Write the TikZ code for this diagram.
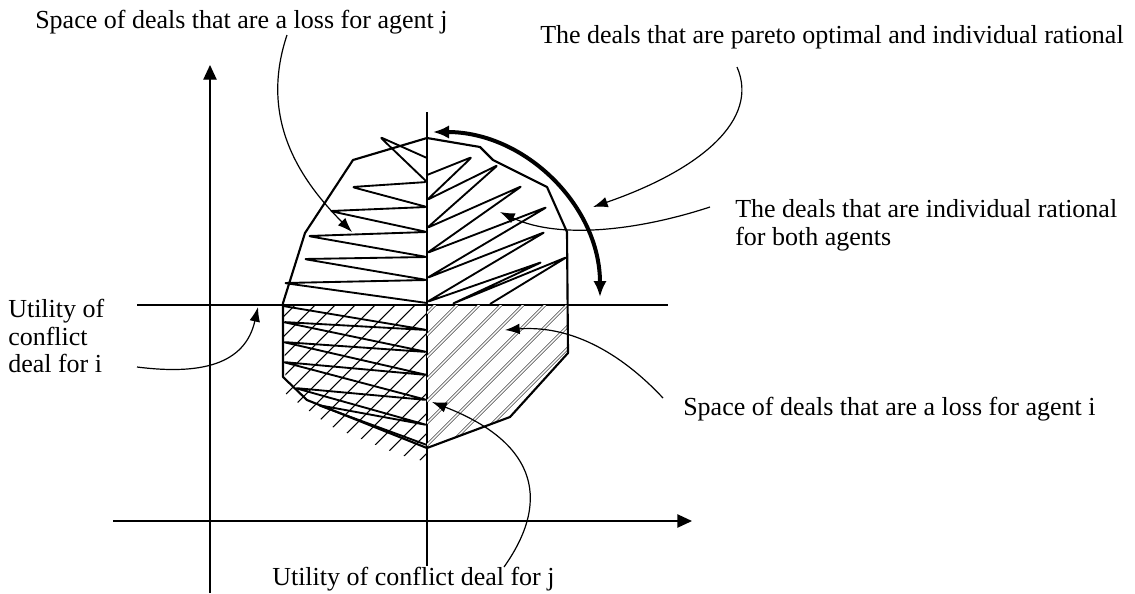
\documentclass[tikz,border=0pt]{standalone}
\usepackage{fontspec}
\setmainfont{Liberation Serif}
\usetikzlibrary{arrows.meta}
\begin{document}
\begin{tikzpicture}[x=0.75pt,y=-0.75pt,
  lbl/.style={font=\fontsize{19.5}{21}\selectfont, inner sep=0pt, anchor=base west},
  ax/.style={line width=1pt, -{Triangle[length=11pt,width=10pt]}},
  refline/.style={line width=0.9pt},
  lead/.style={line width=0.9pt, -{Latex[length=11pt,width=8pt]}},
  bound/.style={line width=1.6pt, line join=round},
  hatch/.style={line width=1.4pt, rounded corners=2pt, line join=round},
  thinhatch/.style={line width=0.8pt},
  dblhatch/.style={line width=0.45pt, double, double distance=1.1pt},
  bigarc/.style={line width=3pt, {Latex[length=12pt,width=10pt]}-{Latex[length=12pt,width=10pt]}},
]
\useasboundingbox (0,0) rectangle (1135,593);

% labels
\node[lbl] (lossj) at (35,28) {Space of deals that are a loss for agent j};
\node[lbl] (pareto) at (540,43) {The deals that are pareto optimal and individual rational};
\node[lbl] (irA) at (735,217) {The deals that are individual rational};
\node[lbl] (irB) at (735,245) {for both agents};
\node[lbl] (lossi) at (683,415) {Space of deals that are a loss for agent i};
\node[lbl] (ciA) at (8,317) {Utility of};
\node[lbl] (ciB) at (8,345) {conflict};
\node[lbl] (ciC) at (8,372) {deal for i};
\node[lbl] (cj) at (272,585) {Utility of conflict deal for j};

% axes
\coordinate (ybot) at (210,593);
\coordinate (ytop) at (210,65);
\coordinate (xleft) at (113,521);
\coordinate (xright) at (692,521);
\draw[ax] (ybot) -- (ytop);
\draw[ax] (xleft) -- (xright);

% conflict lines
\coordinate (hl) at (137,305);
\coordinate (hr) at (668,305);
\coordinate (vt) at (427,112);
\coordinate (vb) at (427,566);
\draw[refline] (hl) -- (hr);
\draw[refline] (vt) -- (vb);

% hatching upper left
\draw[hatch] (427,158) -- (380,137) -- (427,182) -- (352,187) -- (427,207) -- (330,211)
  -- (427,232) -- (308,236) -- (427,257) -- (304,259) -- (427,280) -- (284,283) -- (427,303);
% hatching upper right
\draw[hatch] (427,175) -- (472,157) -- (427,200) -- (498,165) -- (427,228) -- (522,186)
  -- (427,253) -- (547,207) -- (427,278) -- (545,232) -- (427,302) -- (542,262)
  -- (452,304) -- (567,257) -- (490,304);
% hatching lower left
\draw[hatch] (283,306) -- (427,330) -- (283,322) -- (427,352) -- (283,342) -- (427,375)
  -- (283,362) -- (427,400) -- (295,388) -- (427,425) -- (318,405) -- (427,445);
\begin{scope}
  \clip (283,305) -- (427,305) -- (427,462) -- (400,455) -- (330,426) -- (286,394) -- cycle;
  \foreach \c in {600,620,...,900} \draw[thinhatch] ({\c-300},300) -- ({\c-480},480);
\end{scope}
% hatching lower right
\begin{scope}
  \clip (427,305) -- (568,305) -- (568,353) -- (510,417) -- (427,448) -- cycle;
  \foreach \c in {740,762,...,930} \draw[dblhatch] ({\c-300},300) -- ({\c-460},460);
\end{scope}

% boundary of the deal space
\draw[bound] (427,138) -- (480,147) -- (493,160) -- (547,187) -- (567,232) -- (568,353)
  -- (510,417) -- (427,448) -- (307,400) -- (283,377) -- (283,303) -- (305,233) -- (353,160) -- cycle;

% pareto arc
\coordinate (arcA) at (433,132);
\coordinate (arcB) at (600,297);
\draw[bigarc] (arcA) .. controls (525,132) and (600,206) .. (arcB);

% leaders
\coordinate (lj0) at (287,35);
\coordinate (lj1) at (352,232);
\draw[lead] (lj0) .. controls (262,110) and (290,170) .. (lj1);
\coordinate (p0) at (737,67);
\coordinate (p1) at (593,207);
\draw[lead] (p0) .. controls (760,120) and (700,170) .. (p1);
\coordinate (ir0) at (710,207);
\coordinate (ir1) at (500,212);
\draw[lead] (ir0) .. controls (640,230) and (560,240) .. (ir1);
\coordinate (ci0) at (137,367);
\coordinate (ci1) at (258,307);
\draw[lead] (ci0) .. controls (200,375) and (245,365) .. (ci1);
\coordinate (li0) at (663,398);
\coordinate (li1) at (505,330);
\draw[lead] (li0) .. controls (620,352) and (570,325) .. (li1);
\coordinate (cj0) at (504,567);
\coordinate (cj1) at (432,402);
\draw[lead] (cj0) .. controls (555,495) and (530,440) .. (cj1);
\end{tikzpicture}
\end{document}
